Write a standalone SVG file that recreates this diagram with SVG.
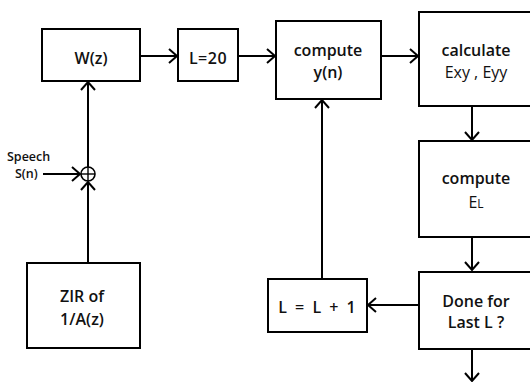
<svg xmlns="http://www.w3.org/2000/svg" width="530" height="382" viewBox="0 0 530 382">
<style>
.box{fill:#fff;stroke:#000;stroke-width:2}
.t{font-family:"Open Sans","Noto Sans","Liberation Sans",sans-serif;font-size:16px;font-weight:600;fill:#111;text-anchor:middle}
.n{font-weight:normal}
.s{font-family:"Open Sans","Noto Sans","Liberation Sans",sans-serif;font-size:12.5px;font-weight:600;fill:#111}
.c{fill:none;stroke:#000;stroke-width:2}
</style>
<defs>
<marker id="a" markerUnits="userSpaceOnUse" markerWidth="12" markerHeight="16" refX="9" refY="8" orient="auto">
<path d="M1,1 L9,8 L1,15" fill="none" stroke="#000" stroke-width="2"/>
</marker>
</defs>
<g id="connectors">
<line class="c" x1="140" y1="56" x2="177" y2="56" marker-end="url(#a)"/>
<line class="c" x1="238" y1="56" x2="275" y2="56" marker-end="url(#a)"/>
<line class="c" x1="381" y1="56" x2="418" y2="56" marker-end="url(#a)"/>
<line class="c" x1="472" y1="106" x2="472" y2="140" marker-end="url(#a)"/>
<line class="c" x1="472" y1="237" x2="472" y2="270" marker-end="url(#a)"/>
<line class="c" x1="472" y1="349" x2="472" y2="381" marker-end="url(#a)"/>
<line class="c" x1="419" y1="305" x2="368" y2="305" marker-end="url(#a)"/>
<line class="c" x1="322" y1="279" x2="322" y2="100" marker-end="url(#a)"/>
<line class="c" x1="88" y1="263" x2="88" y2="182" marker-end="url(#a)"/>
<line class="c" x1="88" y1="167" x2="88" y2="82" marker-end="url(#a)"/>
<line class="c" x1="43" y1="174" x2="80" y2="174" marker-end="url(#a)"/>
</g>
<g id="sum">
<circle cx="88" cy="174" r="7" fill="#fff" stroke="#000" stroke-width="1.6"/>
<line x1="81" y1="174" x2="95" y2="174" stroke="#000" stroke-width="1.4"/>
<line x1="88" y1="167" x2="88" y2="181" stroke="#000" stroke-width="1.4"/>
</g>
<g id="speech">
<text class="s" x="7" y="161">Speech</text>
<text class="s" x="15" y="178">S(n)</text>
</g>
<g id="wz">
<rect class="box" x="42" y="29" width="98" height="52"/>
<text class="t" x="91" y="64">W(z)</text>
</g>
<g id="l20">
<rect class="box" x="178" y="29" width="60" height="52"/>
<text class="t" x="208" y="64" letter-spacing="0.5">L=20</text>
</g>
<g id="computey">
<rect class="box" x="276" y="21" width="105" height="78"/>
<text class="t" x="328" y="56">compute</text>
<text class="t" x="328" y="78">y(n)</text>
</g>
<g id="calculate">
<rect class="box" x="419" y="12" width="116" height="94"/>
<text class="t" x="476" y="56">calculate</text>
<text class="t n" x="476" y="78">Exy , Eyy</text>
</g>
<g id="computeEL">
<rect class="box" x="419" y="141" width="116" height="96"/>
<text class="t" x="476" y="184">compute</text>
<text class="t n" x="476" y="208">E<tspan font-size="12px">L</tspan></text>
</g>
<g id="done">
<rect class="box" x="419" y="272" width="116" height="77"/>
<text class="t" x="476" y="307">Done for</text>
<text class="t" x="476" y="328">Last L ?</text>
</g>
<g id="lplus">
<rect class="box" x="268" y="279" width="99" height="53"/>
<text class="t" x="318" y="313" letter-spacing="2">L = L + 1</text>
</g>
<g id="zir">
<rect class="box" x="27" y="263" width="113" height="85"/>
<text class="t" x="82" y="302">ZIR of</text>
<text class="t" x="82" y="325">1/A(z)</text>
</g>
</svg>
